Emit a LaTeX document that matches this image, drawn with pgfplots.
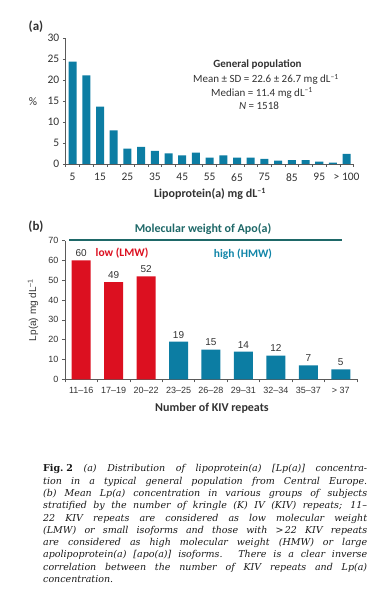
\documentclass[border=0pt]{standalone}
\usepackage{pgfplots}
\pgfplotsset{compat=1.18}
\usepackage{fontspec}
\setmainfont{Carlito}
\newfontfamily\arial{Liberation Sans}
\newfontfamily\capfont{DejaVu Serif}
\definecolor{lpblue}{RGB}{12,125,163}
\definecolor{lpred}{RGB}{220,16,32}
\definecolor{lpteal}{RGB}{30,104,104}
\definecolor{hmwcol}{RGB}{16,133,168}
\definecolor{txt}{RGB}{50,50,50}
\definecolor{axgray}{RGB}{90,90,90}
\begin{document}
\begin{tikzpicture}[x=1pt,y=1pt]
\path[use as bounding box] (0,0) rectangle (386,598);
% ---------------- panel (a)
\begin{axis}[at={(65.8pt,434pt)}, anchor=south west, scale only axis,
  width=287.7pt, height=126pt,
  xmin=-0.5, xmax=20.5, ymin=0, ymax=30,
  axis x line*=bottom, axis y line*=left,
  axis line style={draw=axgray, line width=0.6pt},
  ytick={0,5,...,30},
  xtick={0,2,...,20},
  xticklabels={5,15,25,35,45,55,65,75,85,95,{> 100}},
  minor xtick={-0.5,0.5,...,20.5},
  major x tick style={draw=none},
  tick style={draw=axgray, line width=0.6pt},
  tick align=outside, major tick length=3pt, minor tick length=3pt,
  /pgf/number format/assume math mode=true,
  ticklabel style={font=\fontsize{11.5}{13}\selectfont, text=txt},
  xticklabel style={yshift=-3pt},
  ybar, bar width=8pt,
]
\addplot[fill=lpblue, draw=none] coordinates {
(0,24.4) (1,21.1) (2,13.65) (3,8.0) (4,3.65) (5,4.1) (6,3.1) (7,2.5)
(8,2.06) (9,2.7) (10,1.5) (11,2.06) (12,1.5) (13,1.5) (14,1.2) (15,0.8)
(16,0.95) (17,0.95) (18,0.55) (19,0.3) (20,2.4)};
\end{axis}
\node[font=\bfseries\fontsize{13}{15}\selectfont, text=txt] at (36,571) {(a)};
\node[font=\fontsize{11.5}{13}\selectfont, text=txt] at (33,496) {\%};
\node[font=\bfseries\fontsize{12}{14}\selectfont, text=txt] at (210,404) {Lipoprotein(a) mg dL\textsuperscript{–1}};
\node[font=\bfseries\fontsize{11}{13}\selectfont, text=txt, anchor=base] at (257.5,530) {General population};
\node[font=\fontsize{11}{13}\selectfont, text=txt, anchor=base] at (266,515) {Mean ± SD = 22.6 ± 26.7 mg dL\textsuperscript{–1}};
\node[font=\fontsize{11}{13}\selectfont, text=txt, anchor=base] at (262,501.5) {Median = 11.4 mg dL\textsuperscript{–1}};
\node[font=\fontsize{11}{13}\selectfont, text=txt, anchor=base] at (259,488) {\textit{N} = 1518};
% ---------------- panel (b)
\begin{axis}[at={(65pt,218.7pt)}, anchor=south west, scale only axis,
  width=292pt, height=138.7pt,
  xmin=-0.5, xmax=8.5, ymin=0, ymax=70,
  axis x line*=bottom, axis y line*=left,
  axis line style={draw=axgray, line width=0.6pt},
  ytick={0,10,...,70},
  xtick={0,...,8},
  xticklabels={11–16,17–19,20–22,23–25,26–28,29–31,32–34,35–37,{> 37}},
  minor xtick={-0.5,0.5,...,8.5},
  major x tick style={draw=none},
  tick style={draw=axgray, line width=0.6pt},
  tick align=outside, major tick length=3pt, minor tick length=3pt,
  /pgf/number format/assume math mode=true,
  ticklabel style={font=\arial\fontsize{9}{11}\selectfont, text=txt},
  xticklabel style={yshift=-1.5pt},
  ybar, bar width=19pt,
  nodes near coords,
  every node near coord/.append style={font=\arial\fontsize{10}{12}\selectfont, text=txt},
]
\addplot[fill=lpred, draw=none, bar shift=0pt] coordinates {(0,60) (1,49) (2,52)};
\addplot[fill=lpblue, draw=none, bar shift=0pt] coordinates {(3,19) (4,15) (5,14) (6,12) (7,7) (8,5)};
\end{axis}
\node[font=\bfseries\fontsize{13}{15}\selectfont, text=txt] at (36,371) {(b)};
\node[font=\bfseries\fontsize{12}{14}\selectfont, text=lpteal] at (203,369) {Molecular weight of Apo(a)};
\draw[lpteal, line width=1.6pt] (69,358) -- (342,358);
\node[font=\bfseries\fontsize{11.5}{13}\selectfont, text=lpred] at (122,345) {low (LMW)};
\node[font=\bfseries\fontsize{11.5}{13}\selectfont, text=hmwcol] at (243,344) {high (HMW)};
\node[font=\arial\fontsize{10}{12}\selectfont, text=txt, rotate=90] at (33,288) {Lp(a) mg dL\textsuperscript{–1}};
\node[font=\bfseries\fontsize{12}{14}\selectfont, text=txt] at (212,190) {Number of KIV repeats};
% ---------------- caption
\begin{scope}[every node/.style={anchor=base west, inner sep=0pt, text=black!90, font=\capfont\itshape\fontsize{9.5}{12}\selectfont}]
\node at (43,126.0) {\hbox to 324pt{\mbox{\textbf{\upshape Fig.\kern0.3em2}} (a) Distribution of lipoprotein(a) [Lp(a)] concentra-}};
\node at (43,113.74) {\hbox to 324pt{tion in a typical general population from Central Europe.}};
\node at (43,101.48) {\hbox to 324pt{(b) Mean Lp(a) concentration in various groups of subjects}};
\node at (43,89.22) {\hbox to 324pt{stratified by the number of kringle (K) IV (KIV) repeats; 11–}};
\node at (43,76.96) {\hbox to 324pt{22 KIV repeats are considered as low molecular weight}};
\node at (43,64.70) {\hbox to 324pt{(LMW) or small isoforms and those with >\kern0.15em22 KIV repeats}};
\node at (43,52.44) {\hbox to 324pt{are considered as high molecular weight (HMW) or large}};
\node at (43,40.18) {\hbox to 324pt{apolipoprotein(a) [apo(a)] isoforms. There is a clear inverse}};
\node at (43,27.92) {\hbox to 324pt{correlation between the number of KIV repeats and Lp(a)}};
\node at (43,15.66) {concentration.};
\end{scope}
\end{tikzpicture}
\end{document}
